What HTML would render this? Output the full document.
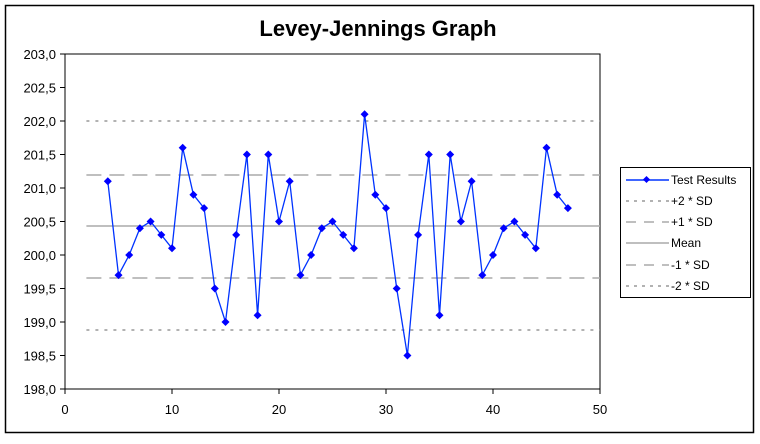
<!DOCTYPE html>
<html><head><meta charset="utf-8"><style>html,body{margin:0;padding:0;background:#fff}</style></head>
<body>
<svg width="760" height="439" xmlns="http://www.w3.org/2000/svg" font-family="Liberation Sans, Arial, sans-serif">
<rect x="0" y="0" width="760" height="439" fill="#fff"/>
<rect x="5.5" y="5.5" width="748" height="427" fill="#fff" stroke="#000" stroke-width="1.5"/>
<text x="378" y="36" text-anchor="middle" font-size="22" font-weight="bold">Levey-Jennings Graph</text>
<g id="plot"></g>
<rect x="620.5" y="167.5" width="130" height="130" fill="#fff" stroke="#000"/>
<g font-size="12" fill="#000">
<line x1="626" y1="180" x2="669" y2="180" stroke="#0033ff" stroke-width="1.5"/>
<rect x="644" y="177" width="5" height="5" fill="#0000ff" transform="rotate(45 646.5 179.5)"/>
<text x="671" y="184">Test Results</text>
<line x1="626" y1="201" x2="669" y2="201" stroke="#666" stroke-dasharray="3,5"/>
<text x="671" y="205">+2 * SD</text>
<line x1="626" y1="222" x2="669" y2="222" stroke="#aaa" stroke-width="1.5" stroke-dasharray="10,8"/>
<text x="671" y="226">+1 * SD</text>
<line x1="626" y1="243" x2="669" y2="243" stroke="#aaa" stroke-width="1.5"/>
<text x="671" y="247">Mean</text>
<line x1="626" y1="265" x2="669" y2="265" stroke="#aaa" stroke-width="1.5" stroke-dasharray="10,8"/>
<text x="671" y="269">-1 * SD</text>
<line x1="626" y1="286" x2="669" y2="286" stroke="#666" stroke-dasharray="3,5"/>
<text x="671" y="290">-2 * SD</text>
</g>
</svg>
<script>
const X0=65,X1=600,Y0=389,Yt=54;
const sx=v=>X0+(X1-X0)*v/50, sy=v=>Y0-(Y0-Yt)*(v-198)/5;
let s='';
s+=`<rect x="${X0}" y="${Yt}" width="${X1-X0}" height="${Y0-Yt}" fill="#fff" stroke="#000"/>`;
for(let i=0;i<=10;i++){const v=198+i*0.5,y=sy(v);s+=`<line x1="${X0-5}" y1="${y}" x2="${X0}" y2="${y}" stroke="#000"/><text x="${X0-9}" y="${y+5}" text-anchor="end" font-size="13">${v.toFixed(1).replace('.',',')}</text>`;}
for(let i=0;i<=5;i++){const x=sx(i*10);s+=`<line x1="${x}" y1="${Y0}" x2="${x}" y2="${Y0+5}" stroke="#000"/><text x="${x}" y="${Y0+25}" text-anchor="middle" font-size="13">${i*10}</text>`;}
const lx=sx(2);
s+=`<line x1="${lx}" y1="121" x2="${X1}" y2="121" stroke="#666" stroke-dasharray="3,6"/>`;
s+=`<line x1="${lx}" y1="175" x2="${X1}" y2="175" stroke="#aaa" stroke-width="1.5" stroke-dasharray="15,8"/>`;
s+=`<line x1="${lx}" y1="226" x2="${X1}" y2="226" stroke="#aaa" stroke-width="1.5"/>`;
s+=`<line x1="${lx}" y1="278" x2="${X1}" y2="278" stroke="#aaa" stroke-width="1.5" stroke-dasharray="15,8"/>`;
s+=`<line x1="${lx}" y1="330" x2="${X1}" y2="330" stroke="#666" stroke-dasharray="3,6"/>`;
const d=[201.1,199.7,200.0,200.4,200.5,200.3,200.1,201.6,200.9,200.7,199.5,199.0,200.3,201.5,199.1,201.5,200.5,201.1,199.7,200.0,200.4,200.5,200.3,200.1,202.1,200.9,200.7,199.5,198.5,200.3,201.5,199.1,201.5,200.5,201.1,199.7,200.0,200.4,200.5,200.3,200.1,201.6,200.9,200.7];
const pts=d.map((v,i)=>[sx(i+4),sy(v)]);
s+=`<polyline points="${pts.map(p=>p.join(',')).join(' ')}" fill="none" stroke="#0033ff" stroke-width="1.3"/>`;
pts.forEach(p=>{s+=`<polygon points="${p[0]},${p[1]-4} ${p[0]+4},${p[1]} ${p[0]},${p[1]+4} ${p[0]-4},${p[1]}" fill="#0000ff"/>`;});
document.getElementById('plot').innerHTML=s;
</script>
</body></html>
